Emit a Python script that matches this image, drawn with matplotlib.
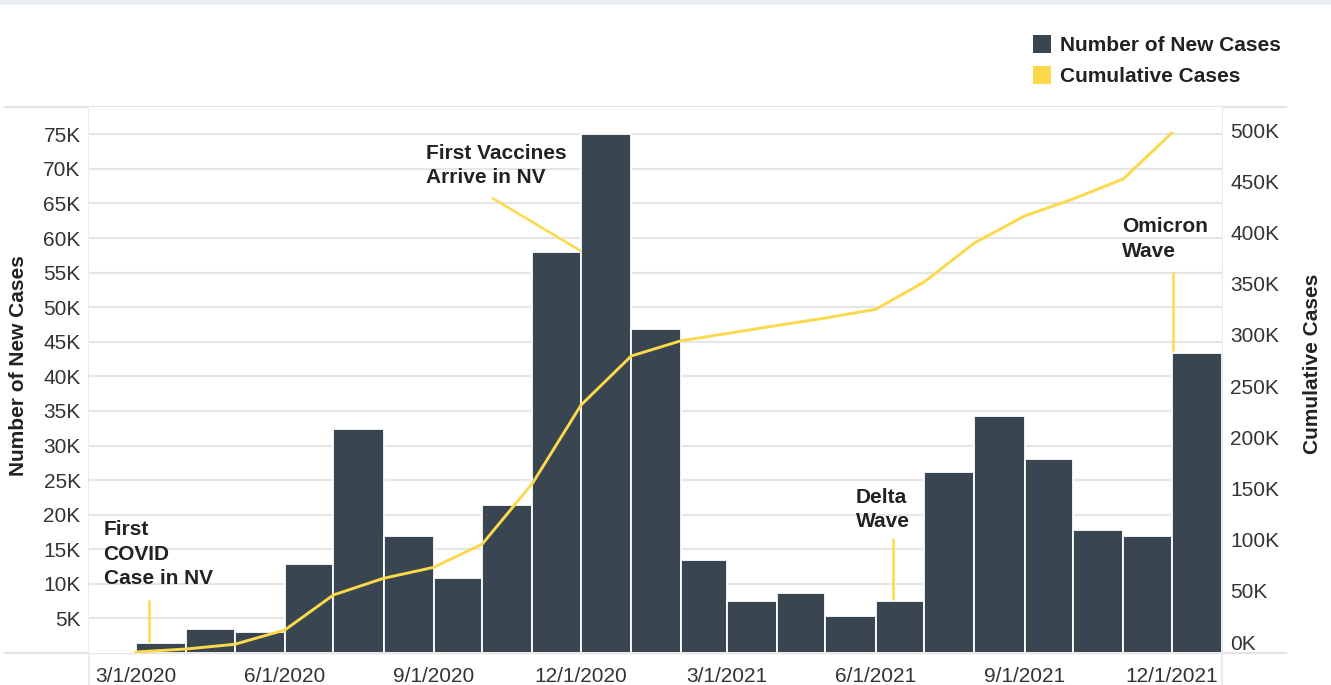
import datetime as dt
import matplotlib
matplotlib.use("Agg")
import matplotlib.pyplot as plt
import matplotlib.dates as mdates
from matplotlib.patches import Patch, Rectangle
from matplotlib.lines import Line2D
from matplotlib.ticker import FixedLocator, FuncFormatter
from matplotlib.transforms import ScaledTranslation
import pandas as pd

# ---------------- data ----------------
months = pd.date_range("2020-03-01", "2021-12-01", freq="MS")
new_cases = [1400, 3500, 3100, 12900, 32400, 16900, 10900, 21400, 58000, 75000, 46900,
             13400, 7500, 8700, 5300, 7500, 26100, 34200, 28000, 17800, 16900, 43400]
cumulative_cases = [1000, 3900, 8500, 22500, 56700, 73000, 83700, 106500, 165800, 242300,
                    290200, 305200, 312100, 320000, 327300, 335800, 362500, 400600, 427000,
                    443600, 463200, 508100]
series_names = ["Number of New Cases", "Cumulative Cases"]
xtick_dates = pd.to_datetime(["2020-03-01", "2020-06-01", "2020-09-01", "2020-12-01",
                              "2021-03-01", "2021-06-01", "2021-09-01", "2021-12-01"])
xtick_labels = ["3/1/2020", "6/1/2020", "9/1/2020", "12/1/2020",
                "3/1/2021", "6/1/2021", "9/1/2021", "12/1/2021"]
left_ticks = list(range(5000, 75001, 5000))
right_ticks = list(range(0, 500001, 50000))

annotation_texts = ["First\nCOVID\nCase in NV", "First Vaccines\nArrive in NV",
                    "Delta\nWave", "Omicron\nWave"]
# leader lines: (date start, value start, date end, value end) on the new-cases axis
annotation_lines = [
    ("2020-03-09", 7600, "2020-03-09", 1600),
    ("2020-10-07", 65800, "2020-12-01", 58100),
    ("2021-06-12", 16600, "2021-06-12", 7700),
    ("2021-12-02", 55100, "2021-12-02", 43700),
]

# ---------------- style ----------------
BAR = "#394651"
YEL = "#fcd94a"
GRID = "#e6e6e6"
TXT = "#333333"
TITLE = "#222222"
FONT = ["Liberation Sans", "DejaVu Sans"]
plt.rcParams["font.family"] = FONT

W, H = 1331, 685
fig = plt.figure(figsize=(W / 100, H / 100), dpi=100)
fig.patch.set_facecolor("white")

def fx(px):
    return px / W

def fy(py):
    return 1 - py / H

ax_l, ax_r, ax_t, ax_b = 89, 1222, 107, 653
ax = fig.add_axes([fx(ax_l), fy(ax_b), (ax_r - ax_l) / W, (ax_b - ax_t) / H])
ax2 = ax.twinx()

# bars
days = months.days_in_month.values
ax.bar(mdates.date2num(months), new_cases, width=days, align="edge",
       color=BAR, edgecolor="white", linewidth=1.3, zorder=2)

# line
ax2.plot(mdates.date2num(months), cumulative_cases, color=YEL, lw=2.1,
         solid_joinstyle="miter", zorder=3)

ax.set_xlim(mdates.date2num(dt.datetime(2020, 2, 1)), mdates.date2num(dt.datetime(2022, 1, 1)))
ax.set_ylim(0, 78940)
ax2.set_ylim(0, 533500)

ax.yaxis.set_major_locator(FixedLocator(left_ticks))
ax.yaxis.set_major_formatter(FuncFormatter(lambda v, p: f"{v/1000:.0f}K"))
ax2.yaxis.set_major_locator(FixedLocator(right_ticks))
ax2.yaxis.set_major_formatter(FuncFormatter(lambda v, p: f"{v/1000:.0f}K"))
ax.set_xticks(mdates.date2num(xtick_dates))
ax.set_xticklabels(xtick_labels)

for a in (ax, ax2):
    for s in a.spines.values():
        s.set_visible(False)
    a.tick_params(length=0, labelsize=15, labelcolor=TXT)
ax.tick_params(axis="y", pad=6)
ax2.tick_params(axis="y", pad=6)
ax.tick_params(axis="x", pad=10)

ax.set_axisbelow(True)
ax.yaxis.grid(True, color=GRID, lw=1.6)
ax.xaxis.grid(False)
ax2.grid(False)

fig.canvas.draw()
off = ScaledTranslation(0, 11 / 100, fig.dpi_scale_trans)
for lab in ax2.get_yticklabels():
    lab.set_transform(lab.get_transform() + off)

# annotations
text_pos = [(103.5, 554), (426, 165.5), (856, 509.5), (1122.3, 239)]
for (px, py), t in zip(text_pos, annotation_texts):
    fig.text(fx(px), fy(py), t, ha="left", va="center", fontsize=15, fontweight="bold",
             color=TITLE, linespacing=1.39)
for d0, v0, d1, v1 in annotation_lines:
    ax.plot(mdates.date2num(pd.to_datetime([d0, d1])), [v0, v1], color=YEL, lw=1.8,
            zorder=4, solid_capstyle="butt")

# pane borders
for (x0, y0, x1, y1, c, lw) in [
    (5, 107, 1286, 107, "#e3e3e3", 1.6),
    (5, 653, 1286, 653, "#e3e3e3", 1.6),
    (89, 107, 89, 685, "#e8e8e8", 1.2),
    (1222, 107, 1222, 685, "#e8e8e8", 1.2),
]:
    fig.add_artist(Line2D([fx(x0), fx(x1)], [fy(y0), fy(y1)], transform=fig.transFigure,
                          color=c, lw=lw, zorder=0))
fig.add_artist(Rectangle((0, fy(5)), 1, 5 / H, transform=fig.transFigure,
                         color="#e9eef0", lw=0, zorder=0))

# axis titles
fig.text(fx(19), fy(366), series_names[0], rotation=90, ha="center", va="center",
         fontsize=15, fontweight="bold", color=TITLE)
fig.text(fx(1313), fy(364), series_names[1], rotation=90, ha="center", va="center",
         fontsize=15, fontweight="bold", color=TITLE)

# legend
handles = [Patch(facecolor=BAR, edgecolor="none"), Patch(facecolor=YEL, edgecolor="none")]
fig.legend(handles, series_names, loc="upper left", bbox_to_anchor=(fx(1016), fy(18)),
           frameon=False, prop={"family": FONT, "size": 15, "weight": "bold"},
           handlelength=0.9, handleheight=0.95, handletextpad=0.4, labelspacing=0.55,
           borderpad=0.3, labelcolor=TITLE)

fig.savefig("out.png", dpi=100)
